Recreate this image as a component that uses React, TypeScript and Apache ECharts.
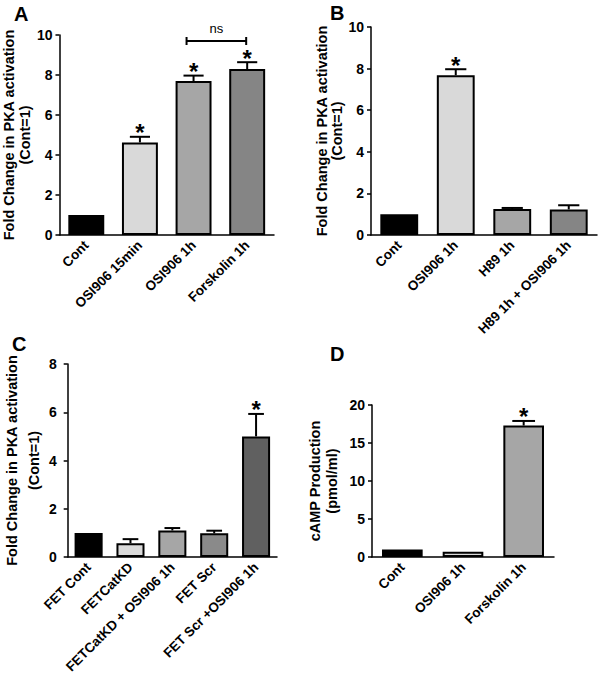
import React, { useEffect, useRef } from "react";
import * as echarts from "echarts";

const FONT = "'Liberation Sans', Arial, Helvetica, sans-serif";

// Panel A
const catsA = ["Cont", "OSI906 15min", "OSI906 1h", "Forskolin 1h"];
const valsA = [1.0, 4.63, 7.7, 8.3];
const errA = [0, 0.28, 0.27, 0.34];
const sigA = [0, 1, 1, 1];
const colorsA = ["#000000", "#d9d9d9", "#a6a6a6", "#858585"];
const nsA = [2, 3, 9.7]; // from category, to category, level

// Panel B
const catsB = ["Cont", "OSI906 1h", "H89 1h", "H89 1h + OSI906 1h"];
const valsB = [1.0, 7.68, 1.25, 1.23];
const errB = [0, 0.29, 0.05, 0.2];
const sigB = [0, 1, 0, 0];
const colorsB = ["#000000", "#d9d9d9", "#a6a6a6", "#858585"];

// Panel C
const catsC = ["FET Cont", "FETCatKD", "FETCatKD + OSI906 1h", "FET Scr", "FET Scr +OSI906 1h"];
const valsC = [1.0, 0.57, 1.1, 0.98, 5.0];
const errC = [0, 0.17, 0.1, 0.11, 0.93];
const sigC = [0, 0, 0, 0, 1];
const colorsC = ["#000000", "#d9d9d9", "#a6a6a6", "#8a8a8a", "#606060"];

// Panel D
const catsD = ["Cont", "OSI906 1h", "Forskolin 1h"];
const valsD = [1.0, 0.7, 17.3];
const errD = [0, 0, 0.6];
const sigD = [0, 0, 1];
const colorsD = ["#000000", "#d9d9d9", "#a6a6a6"];

const yTicksAB = { max: 10, interval: 2 };
const yTicksC = { max: 8, interval: 2 };
const yTicksD = { max: 20, interval: 5 };

const PKA_NAME = "Fold Change in PKA activation\n(Cont=1)";
const CAMP_NAME = "cAMP Production\n(pmol/ml)";

const BAR_W = 0.67;

const xAxisCfg = (gridIndex: number, cats: string[]) => ({
  type: "category",
  gridIndex,
  data: cats,
  axisLine: { lineStyle: { color: "#000", width: 1.5 } },
  axisTick: { alignWithLabel: true, length: 5, lineStyle: { color: "#000", width: 1.5 } },
  axisLabel: {
    rotate: 45,
    interval: 0,
    margin: 8,
    color: "#000",
    fontWeight: "bold",
    fontSize: 13.5,
    fontFamily: FONT,
  },
});

const yAxisCfg = (
  gridIndex: number,
  t: { max: number; interval: number },
  name: string,
  gap: number,
  lh: number,
  labelMargin: number
) => ({
  type: "value",
  gridIndex,
  min: 0,
  max: t.max,
  interval: t.interval,
  name,
  nameLocation: "middle",
  nameRotate: 90,
  nameGap: gap,
  nameTextStyle: { color: "#000", fontWeight: "bold", fontSize: 14.5, fontFamily: FONT, lineHeight: lh },
  axisLine: { show: true, lineStyle: { color: "#000", width: 1.5 } },
  axisTick: { show: true, length: 4, lineStyle: { color: "#000", width: 1.5 } },
  axisLabel: { margin: labelMargin, color: "#000", fontWeight: "bold", fontSize: 14, fontFamily: FONT },
  splitLine: { show: false },
});

const renderErr = (params: any, api: any) => {
  const i = api.value(0);
  const v = api.value(1);
  const e = api.value(2);
  const s = api.value(3);
  const bw = api.size([1, 0])[0] * BAR_W;
  const base = api.coord([i, v]);
  const top = api.coord([i, v + e]);
  const children: any[] = [];
  if (e > 0) {
    children.push({
      type: "line",
      shape: { x1: base[0], y1: base[1], x2: top[0], y2: top[1] },
      style: { stroke: "#000", lineWidth: 2 },
    });
    children.push({
      type: "line",
      shape: { x1: top[0] - bw * 0.28, y1: top[1], x2: top[0] + bw * 0.28, y2: top[1] },
      style: { stroke: "#000", lineWidth: 2 },
    });
  }
  if (s) {
    children.push({
      type: "text",
      x: top[0],
      y: top[1] - 4,
      style: {
        text: "*",
        fontSize: 24,
        fontWeight: "bold",
        fill: "#000",
        align: "center",
        verticalAlign: "middle",
        fontFamily: FONT,
      },
    });
  }
  return { type: "group", children };
};

const renderBracket = (params: any, api: any) => {
  const lvl = api.value(2);
  const a = api.coord([api.value(0), lvl]);
  const b = api.coord([api.value(1), lvl]);
  const x1 = a[0] - 7;
  const x2 = b[0] - 1;
  const y = a[1];
  const st = { stroke: "#000", lineWidth: 2 };
  return {
    type: "group",
    children: [
      { type: "line", shape: { x1, y1: y, x2, y2: y }, style: st },
      { type: "line", shape: { x1, y1: y - 4, x2: x1, y2: y + 4 }, style: st },
      { type: "line", shape: { x1: x2, y1: y - 4, x2, y2: y + 4 }, style: st },
      {
        type: "text",
        x: (x1 + x2) / 2,
        y: y - 13,
        style: { text: "ns", fontSize: 13, fill: "#000", align: "center", verticalAlign: "middle", fontFamily: FONT },
      },
    ],
  };
};

const barSeries = (idx: number, vals: number[], colors: string[]) => ({
  type: "bar",
  xAxisIndex: idx,
  yAxisIndex: idx,
  barWidth: "67%",
  data: vals.map((v, i) => ({
    value: v,
    itemStyle: { color: colors[i], borderColor: "#000", borderWidth: 2 },
  })),
});

const errSeries = (idx: number, vals: number[], errs: number[], sig: number[]) => ({
  type: "custom",
  xAxisIndex: idx,
  yAxisIndex: idx,
  renderItem: renderErr,
  encode: { x: 0, y: 1 },
  z: 5,
  data: vals.map((v, i) => [i, v, errs[i], sig[i]]),
});

const panelLetter = (text: string, left: number, top: number) => ({
  type: "text",
  left,
  top,
  style: { text, fontSize: 20, fontWeight: "bold", fill: "#000", fontFamily: FONT },
});

export default function App() {
  const ref = useRef<HTMLDivElement>(null);
  useEffect(() => {
    if (!ref.current) return;
    const chart = echarts.init(ref.current, undefined, { renderer: "svg" });
    chart.setOption({
      animation: false,
      backgroundColor: "#fff",
      grid: [
        { left: 59, top: 35, width: 215, height: 200 },
        { left: 371, top: 27, width: 226, height: 208 },
        { left: 58, top: 364, width: 219, height: 193 },
        { left: 372, top: 405, width: 182, height: 152 },
      ],
      xAxis: [xAxisCfg(0, catsA), xAxisCfg(1, catsB), xAxisCfg(2, catsC), xAxisCfg(3, catsD)],
      yAxis: [
        yAxisCfg(0, yTicksAB, PKA_NAME, 25, 16, 7),
        yAxisCfg(1, yTicksAB, PKA_NAME, 27, 15, 7),
        yAxisCfg(2, yTicksC, PKA_NAME, 14, 22, 11),
        yAxisCfg(3, yTicksD, CAMP_NAME, 32, 17, 7),
      ],
      graphic: [
        panelLetter("A", 14, 4),
        panelLetter("B", 330, 3),
        panelLetter("C", 12, 334),
        panelLetter("D", 330, 344),
      ],
      series: [
        barSeries(0, valsA, colorsA),
        errSeries(0, valsA, errA, sigA),
        {
          type: "custom",
          xAxisIndex: 0,
          yAxisIndex: 0,
          renderItem: renderBracket,
          encode: { x: 0, y: 2 },
          z: 5,
          data: [nsA],
        },
        barSeries(1, valsB, colorsB),
        errSeries(1, valsB, errB, sigB),
        barSeries(2, valsC, colorsC),
        errSeries(2, valsC, errC, sigC),
        barSeries(3, valsD, colorsD),
        errSeries(3, valsD, errD, sigD),
      ],
    });
    return () => chart.dispose();
  }, []);
  return (
    <div
      ref={ref}
      style={{ position: "absolute", left: 0, top: 0, width: 600, height: 682, background: "#fff" }}
    />
  );
}
